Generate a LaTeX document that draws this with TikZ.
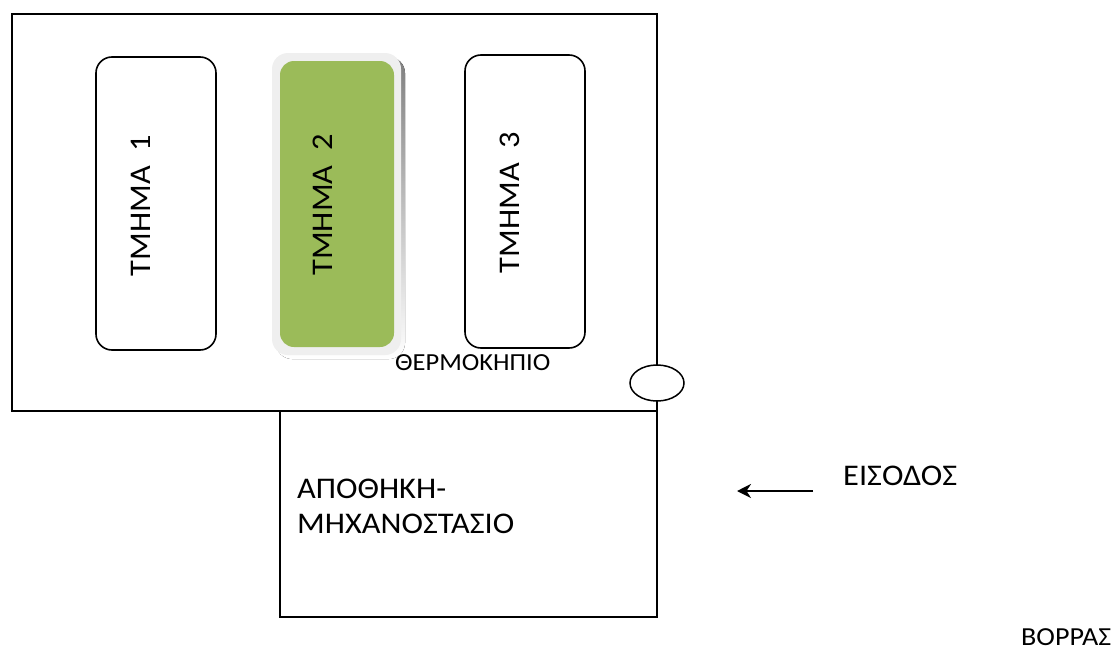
\documentclass[tikz,border=0pt]{standalone}
\usepackage{fontspec}
\setmainfont{Carlito}[FakeStretch=1.08]
\usetikzlibrary{arrows.meta,shapes.geometric}
\definecolor{boxgreen}{HTML}{9BBB59}
\definecolor{glow}{HTML}{EFEFEF}
\definecolor{shade}{HTML}{B5C29A}
\tikzset{
  wall/.style={draw=black, line width=2pt},
  section/.style={draw=black, line width=1.6pt, rounded corners=16pt},
  lbl/.style={inner sep=0pt, font=\fontsize{30}{36}\selectfont},
  seclbl/.style={inner sep=0pt, rotate=90, font=\fontsize{30}{36}\selectfont},
}
\begin{document}
\begin{tikzpicture}[x=1pt,y=-1pt]
\useasboundingbox (0,0) rectangle (1114,653);
% greenhouse and storage
\draw[wall] (12,14) rectangle (657,411);
\draw[wall] (280,411) -- (280,617) -- (657,617) -- (657,411);
\node[draw=black, line width=1.5pt, ellipse, minimum width=54pt, minimum height=36pt, fill=white, inner sep=0pt] (door) at (657,383) {};
% sections
\node[section, minimum width=120pt, minimum height=293pt] (s1) at (156,203.5) {};
\node[seclbl] (t1) at ([xshift=-15pt,yshift=-2pt]s1.center) {ΤΜΗΜΑ\ \ 1};
\node[section, minimum width=120pt, minimum height=293pt] (s3) at (525,201.5) {};
\node[seclbl] (t3) at ([xshift=-15pt,yshift=-1pt]s3.center) {ΤΜΗΜΑ\ \ 3};
% green section with glow and shadow
\fill[shade, rounded corners=16pt] (276,57) rectangle (405,359);
\fill[glow, rounded corners=16pt] (272,53) rectangle (401,355);
\node[fill=boxgreen, rounded corners=14pt, minimum width=114pt, minimum height=286pt, inner sep=0pt] (s2) at (337,204) {};
\node[seclbl] (t2) at ([xshift=-14pt,yshift=-1pt]s2.center) {ΤΜΗΜΑ\ \ 2};
% labels
\node[lbl, anchor=base west, font=\fontsize{24.5}{30}\selectfont] (gh) at (395,370) {ΘΕΡΜΟΚΗΠΙΟ};
\node[lbl, anchor=base west] (st1) at (297,498) {ΑΠΟΘΗΚΗ-};
\node[lbl, anchor=base west] (st2) at (297,533) {ΜΗΧΑΝΟΣΤΑΣΙΟ};
\node[lbl, anchor=base west] (ent) at (843,485) {ΕΙΣΟΔΟΣ};
\node[lbl, anchor=base west, font=\fontsize{26}{30}\selectfont] (north) at (1021,645) {ΒΟΡΡΑΣ};
% entrance arrow
\coordinate (a1) at (813,491);
\coordinate (a2) at (737,491);
\draw[line width=2pt, -{Stealth[length=14pt, width=14pt]}] (a1) -- (a2);
\end{tikzpicture}
\end{document}
